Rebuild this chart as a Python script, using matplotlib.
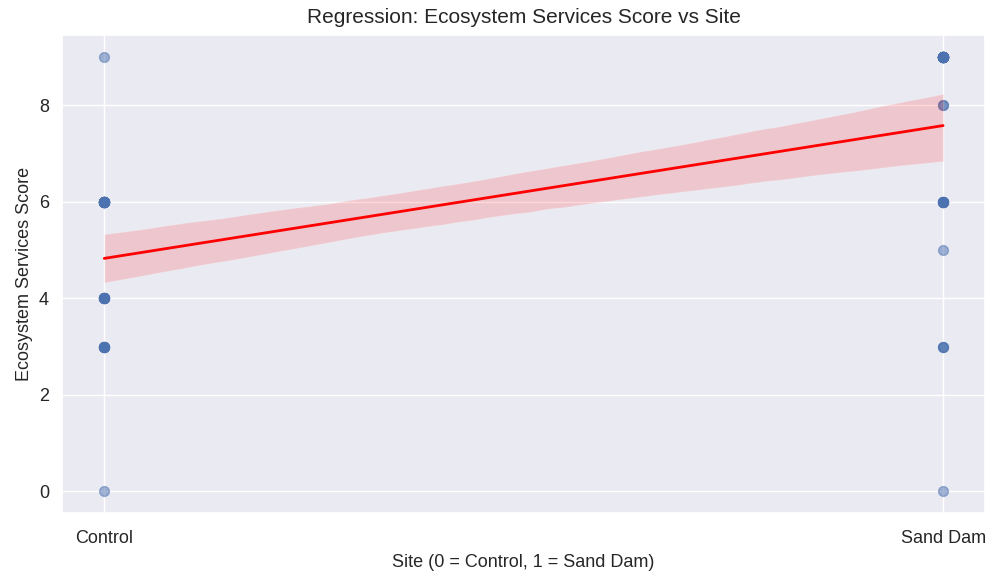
import numpy as np
import pandas as pd
import seaborn as sns
import matplotlib
matplotlib.use("Agg")
import matplotlib.pyplot as plt

# score value -> number of respondents, per site
control_scores = [9, 6, 4, 3, 0]
control_counts = [1, 20, 10, 8, 1]
sanddam_scores = [9, 8, 6, 5, 3, 0]
sanddam_counts = [25, 2, 8, 1, 3, 1]
site_labels = ["Control", "Sand Dam"]

site = [0] * sum(control_counts) + [1] * sum(sanddam_counts)
score = list(np.repeat(control_scores, control_counts)) + list(np.repeat(sanddam_scores, sanddam_counts))
df = pd.DataFrame({"site": site, "score": score})

sns.set_theme(style="darkgrid")
plt.rcParams["font.family"] = ["Liberation Sans", "DejaVu Sans"]

fig, ax = plt.subplots(figsize=(9.89, 5.74), dpi=100)
sns.regplot(data=df, x="site", y="score", ax=ax, seed=3,
            scatter_kws={"alpha": 0.5, "s": 50},
            line_kws={"color": "red", "linewidth": 2})
ax.set_xticks([0, 1])
ax.set_xticklabels(site_labels, fontsize=13)
ax.tick_params(axis="x", pad=6)
ax.tick_params(axis="y", labelsize=13)
ax.set_xlabel("Site (0 = Control, 1 = Sand Dam)", fontsize=13, labelpad=5)
ax.set_ylabel("Ecosystem Services Score", fontsize=13)
ax.set_title("Regression: Ecosystem Services Score vs Site", fontsize=15, pad=9)
fig.subplots_adjust(left=0.063, right=0.996, top=0.939, bottom=0.106)
fig.savefig("out.png")
